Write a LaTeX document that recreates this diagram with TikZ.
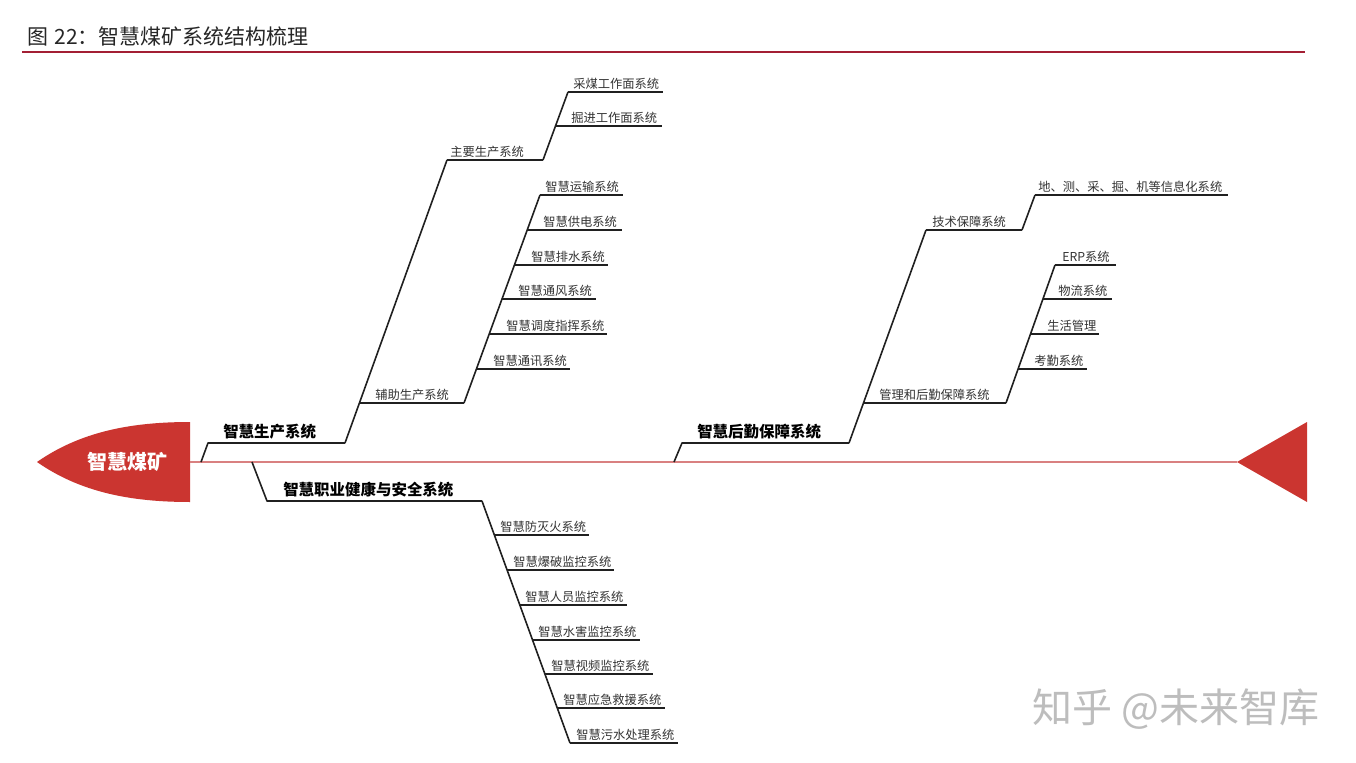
\documentclass[tikz,border=0pt]{standalone}
\usepackage{fontspec}
\setmainfont{Noto Sans CJK SC}
\definecolor{fish}{HTML}{CB3530}
\definecolor{spinec}{HTML}{D98080}
\definecolor{rulec}{HTML}{A31F34}
\definecolor{linec}{HTML}{202020}
\definecolor{txtc}{HTML}{333333}
\definecolor{wmc}{HTML}{BDBDBD}
\tikzset{
  ln/.style={draw=linec, line width=1.2pt, line join=round},
  leaf/.style={inner sep=0pt, anchor=base west, text=txtc, font=\fontsize{9.2}{11}\selectfont},
  major/.style={inner sep=0pt, anchor=base west, text=black, font=\fontsize{11.6}{13}\selectfont\bfseries},
}
\newcommand{\fbleaf}[6]{%
  \coordinate (#1s) at (#2,#4);
  \coordinate (#1e) at (#3,#4);
  \node[leaf] (#1) at (#5,#4-3.5) {#6};
  \draw[ln] (#1s) -- (#1e);
}
\begin{document}
\begin{tikzpicture}[x=0.75pt,y=-0.75pt]
\useasboundingbox (0,0) rectangle (1356,763);
\fill[white] (0,0) rectangle (1356,763);

% title
\node[anchor=base west, inner sep=0pt, font=\fontsize{15.75}{18}\selectfont, text=black!85] (title) at (27,45) {图\hspace{0.3em}22：智慧煤矿系统结构梳理};
\coordinate (r1) at (22,52);
\coordinate (r2) at (1305,52);
\draw[rulec, line width=1.5pt] (r1) -- (r2);

% head and tail
\fill[fish] (37,462) .. controls (80,432) and (130,422) .. (190,422) -- (190,502) .. controls (130,502) and (80,492) .. (37,462) -- cycle;
\node[font=\fontsize{15}{17}\selectfont\bfseries, text=white, inner sep=0pt] (head) at (127,462) {智慧煤矿};
\fill[fish] (1237,462) -- (1307,422) -- (1307,502) -- cycle;
\coordinate (headR) at (190,462);
\coordinate (tailT) at (1237,462);
\draw[spinec, line width=1.1pt] (headR) -- (tailT);

% ---------- Branch A: 智慧生产系统
\coordinate (A0) at (201,462);
\coordinate (As) at (208,443);
\coordinate (Ae) at (345,443);
\node[major] (A) at (223,437) {智慧生产系统};
\draw[ln] (A0) -- (As) -- (Ae);

\fbleaf{A1}{447}{543}{160}{450}{主要生产系统}
\fbleaf{A2}{359.4}{464}{403}{375}{辅助生产系统}
\draw[ln] (Ae) -- (A1s);

\fbleaf{A11}{568}{663}{92}{573}{采煤工作面系统}
\fbleaf{A12}{555.5}{662}{126}{571}{掘进工作面系统}
\draw[ln] (A1e) -- (A11s);

\fbleaf{A21}{540}{623}{195}{545}{智慧运输系统}
\fbleaf{A22}{527.2}{622}{230}{543}{智慧供电系统}
\fbleaf{A23}{514.4}{608}{265}{531}{智慧排水系统}
\fbleaf{A24}{502}{596}{299}{518}{智慧通风系统}
\fbleaf{A25}{489.2}{607}{334}{506}{智慧调度指挥系统}
\fbleaf{A26}{476.4}{570}{369}{493}{智慧通讯系统}
\draw[ln] (A2e) -- (A21s);

% ---------- Branch B: 智慧职业健康与安全系统
\coordinate (B0) at (252,462);
\coordinate (Bs) at (267,501);
\coordinate (Be) at (482,501);
\node[major] (B) at (283,495) {智慧职业健康与安全系统};
\draw[ln] (B0) -- (Bs) -- (Be);

\fbleaf{B1}{494.4}{589}{535}{500}{智慧防灭火系统}
\fbleaf{B2}{507.1}{614}{570}{513}{智慧爆破监控系统}
\fbleaf{B3}{519.8}{627}{605}{525}{智慧人员监控系统}
\fbleaf{B4}{532.5}{640}{640}{538}{智慧水害监控系统}
\fbleaf{B5}{544.9}{653}{674}{551}{智慧视频监控系统}
\fbleaf{B6}{557.3}{665}{708}{563}{智慧应急救援系统}
\fbleaf{B7}{570}{678}{743}{576}{智慧污水处理系统}
\draw[ln] (Be) -- (B7s);

% ---------- Branch C: 智慧后勤保障系统
\coordinate (C0) at (674,462);
\coordinate (Cs) at (682,443);
\coordinate (Ce) at (849,443);
\node[major] (C) at (697,437) {智慧后勤保障系统};
\draw[ln] (C0) -- (Cs) -- (Ce);

\fbleaf{C1}{926}{1022}{230}{932}{技术保障系统}
\fbleaf{C2}{863.5}{1006}{403}{879}{管理和后勤保障系统}
\draw[ln] (Ce) -- (C1s);

\fbleaf{C11}{1035}{1228}{195}{1038}{地、测、采、掘、机等信息化系统}
\draw[ln] (C1e) -- (C11s);

\fbleaf{C21}{1055}{1116}{265}{1062}{ERP系统}
\fbleaf{C22}{1042.9}{1112}{299}{1058}{物流系统}
\fbleaf{C23}{1030.5}{1099}{334}{1047}{生活管理}
\fbleaf{C24}{1018.1}{1087}{369}{1034}{考勤系统}
\draw[ln] (C2e) -- (C21s);

% watermark
\node[anchor=base west, inner sep=0pt, text=wmc, font=\fontsize{30}{34}\selectfont] (wm) at (1032,722) {知乎 @未来智库};
\end{tikzpicture}
\end{document}
